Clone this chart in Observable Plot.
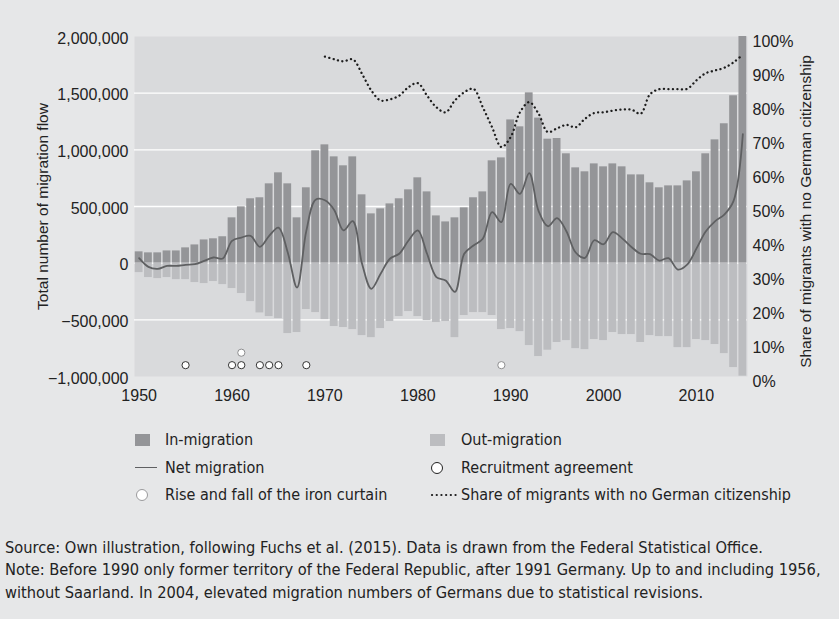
<!DOCTYPE html>
<html>
<head>
<meta charset="utf-8">
<script src="https://cdn.jsdelivr.net/npm/d3@7"></script>
<script src="https://cdn.jsdelivr.net/npm/@observablehq/plot@0.6"></script>
<style>
  html, body { margin: 0; padding: 0; background: #e6e7e8; }
  #wrap { position: relative; width: 839px; height: 619px; background: #e6e7e8; overflow: hidden;
          font-family: "Liberation Sans Narrow", "DejaVu Sans Condensed", sans-serif; color: #222; }
  #chart { position: absolute; left: 0; top: 0; }
  .leg { position: absolute; font-size: 16px; line-height: 20px; white-space: nowrap; }
  .sw { position: absolute; line-height: 0; }
  .sw svg { display: block; }
  .cap { position: absolute; left: 5px; font-size: 16.3px; line-height: 22px; white-space: nowrap; }
</style>
</head>
<body>
<div id="wrap">
  <div id="chart"></div>
  <div id="legend"></div>
  <div id="caption"></div>
</div>
<script>
// ---------- data (thousands) ----------
const years = d3.range(1950, 2016);

const inMigration = [
  100, 91, 91, 108, 108, 135, 161, 205, 215, 233,
  400, 497, 568, 577, 700, 797, 700, 400, 665, 991,
  1044, 938, 859, 938, 603, 435, 479, 523, 568, 647,
  753, 629, 417, 364, 400, 488, 577, 629, 903, 929,
  1264, 1203, 1503, 1280, 1094, 1100, 965, 841, 806, 876,
  850, 876, 850, 779, 779, 709, 665, 682, 682, 726,
  806, 965, 1088, 1230, 1477, 2137
];

const outMigration = [
  -83, -127, -136, -127, -145, -145, -171, -180, -162, -189,
  -224, -268, -339, -439, -471, -489, -621, -612, -409, -436,
  -498, -559, -568, -586, -639, -657, -577, -515, -471, -427,
  -471, -507, -524, -515, -657, -462, -436, -436, -462, -586,
  -577, -604, -727, -824, -768, -700, -683, -754, -763, -674,
  -683, -612, -630, -630, -700, -639, -648, -648, -745, -745,
  -674, -683, -718, -798, -921, -997
];

const netMigration = [
  44, -33, -50, -24, -24, -15, -9, 20, 50, 41,
  197, 226, 241, 144, 241, 314, 94, -215, 285, 560,
  555, 470, 289, 371, -5, -226, -94, 39, 83, 200,
  289, 83, -123, -153, -253, 83, 156, 215, 450, 362,
  700, 612, 794, 462, 326, 398, 282, 94, 47, 202,
  167, 273, 219, 143, 83, 79, 23, 44, -56, -13,
  128, 279, 369, 429, 550, 1139
];

// share of migrants with no German citizenship (%), from 1970
const shareYears = d3.range(1970, 2016);
const shareNonGerman = [
  94.1, 93.3, 92.7, 93.3, 89.0, 84.1, 81.2, 81.5, 82.6, 85.1,
  86.3, 82.6, 79.2, 77.7, 81.2, 83.6, 84.6, 79.2, 73.3, 67.5,
  70.4, 77.7, 80.7, 77.3, 71.9, 73.0, 74.0, 73.3, 75.8, 77.5,
  77.7, 78.2, 78.5, 78.5, 77.3, 83.0, 84.5, 84.5, 84.5, 84.6,
  87.1, 89.2, 90.0, 90.8, 92.4, 94.7
];

const recruitmentYears = [1955, 1960, 1961, 1963, 1964, 1965, 1968];
const ironCurtainYears = [1961, 1989];
const recruitmentLevel = -900000;
const ironCurtainLevel = [-790000, -900000];

const xTicks = [1950, 1960, 1970, 1980, 1990, 2000, 2010];
const yTicks = [-1000000, -500000, 0, 500000, 1000000, 1500000, 2000000];
const pctTicks = [0, 10, 20, 30, 40, 50, 60, 70, 80, 90, 100];

// ---------- tables ----------
const flows = years.map((year, i) => ({
  year, in: inMigration[i] * 1000, out: outMigration[i] * 1000, net: netMigration[i] * 1000
}));
const yMin = -1000000, yMax = 2000000;
const pctToY = p => yMin + p / 100 * (yMax - yMin);
const share = shareYears.map((year, i) => ({ year, share: shareNonGerman[i] }));
const recruit = recruitmentYears.map(year => ({ year, level: recruitmentLevel }));
const curtain = ironCurtainYears.map((year, i) => ({ year, level: ironCurtainLevel[i] }));

const fmt = d3.format(",");

const chart = Plot.plot({
  width: 839,
  height: 408,
  marginLeft: 134,
  marginRight: 92,
  marginTop: 36,
  marginBottom: 32,
  style: { background: "transparent", fontFamily: "'Liberation Sans', Arial, sans-serif", fontSize: "16px", color: "#222" },
  x: { domain: [1949.5, 2015.5] },
  y: { domain: [yMin, yMax] },
  marks: [
    Plot.frame({ fill: "#d9dadc", stroke: null }),
    Plot.ruleY(yTicks.filter(t => t > yMin && t < yMax), { stroke: "#ffffff", strokeWidth: 1.3 }),
    Plot.rectY(flows, { x1: d => d.year - 0.5, x2: d => d.year + 0.5, y1: 0, y2: "in",
      fill: "#949598", insetLeft: 0.75, insetRight: 0.75, clip: true }),
    Plot.rectY(flows, { x1: d => d.year - 0.5, x2: d => d.year + 0.5, y1: 0, y2: "out",
      fill: "#bcbdc0", insetLeft: 0.75, insetRight: 0.75, clip: true }),
    Plot.line(flows, { x: "year", y: "net", curve: "catmull-rom", stroke: "#5f6062", strokeWidth: 1.8 }),
    Plot.line(share, { x: "year", y: d => pctToY(d.share), curve: "catmull-rom",
      stroke: "#1d1d1d", strokeWidth: 2.3, strokeDasharray: "0.1 4.4", strokeLinecap: "round" }),
    Plot.dot(recruit, { x: "year", y: "level", r: 3.6, fill: "#ffffff", stroke: "#333333", strokeWidth: 1 }),
    Plot.dot(curtain, { x: "year", y: "level", r: 3.6, fill: "#ffffff", stroke: "#8e8e90", strokeWidth: 1 }),
    Plot.axisX({ ticks: xTicks, tickFormat: d => String(d), tickSize: 0, tickPadding: 13, label: null, fontSize: 16 }),
    Plot.axisY({ ticks: yTicks, tickFormat: fmt, tickSize: 0, tickPadding: 6, dy: 2, label: null, fontSize: 16 }),
    Plot.axisY({ anchor: "right", ticks: pctTicks.map(pctToY), tickFormat: d => Math.round((d - yMin) / (yMax - yMin) * 100) + "%",
      tickSize: 0, tickPadding: 5, dy: 5, label: null, fontSize: 16 }),
    Plot.text(["Total number of migration flow"], { text: d => d, frameAnchor: "left", textAnchor: "middle",
      dx: -91, rotate: -90, fontSize: 15.5, fill: "#222" }),
    Plot.text(["Share of migrants with no German citizenship"], { text: d => d, frameAnchor: "right", textAnchor: "middle",
      dx: 59, dy: 5, rotate: -90, fontSize: 15.5, fill: "#222" })
  ]
});
document.getElementById("chart").appendChild(chart);

// ---------- legend ----------
const legendItems = [
  { label: "In-migration", kind: "rect", color: "#949598", col: 0, row: 0 },
  { label: "Out-migration", kind: "rect", color: "#bcbdc0", col: 1, row: 0 },
  { label: "Net migration", kind: "line", color: "#5f6062", col: 0, row: 1 },
  { label: "Recruitment agreement", kind: "circle", color: "#222", col: 1, row: 1 },
  { label: "Rise and fall of the iron curtain", kind: "circle", color: "#9a9a9c", col: 0, row: 2 },
  { label: "Share of migrants with no German citizenship", kind: "dots", color: "#1d1d1d", col: 1, row: 2 }
];
const colSwatchX = [135, 430];
const colTextX = [165, 461];
const rowY = [440, 467.5, 495];
const legend = d3.select("#legend");
legendItems.forEach(it => {
  const cx = colSwatchX[it.col], cy = rowY[it.row];
  const s = legend.append("div").attr("class", "sw");
  if (it.kind === "rect") {
    s.style("left", cx + "px").style("top", (cy - 6) + "px").style("width", "15px").style("height", "12px").style("background", it.color);
  } else if (it.kind === "line") {
    s.style("left", cx + "px").style("top", (cy - 0.75) + "px").style("width", "22px").style("height", "1.5px").style("background", it.color);
  } else if (it.kind === "circle") {
    s.style("left", (cx + 1) + "px").style("top", (cy - 6) + "px").style("width", "10px").style("height", "10px")
     .style("border", "1.4px solid " + it.color).style("border-radius", "50%").style("background", "#fff");
  } else {
    const svg = s.style("left", cx + "px").style("top", (cy - 4) + "px").append("svg").attr("width", 28).attr("height", 8);
    svg.append("line").attr("x1", 2).attr("x2", 26).attr("y1", 4).attr("y2", 4)
      .attr("stroke", it.color).attr("stroke-width", 2.2).attr("stroke-linecap", "round").attr("stroke-dasharray", "0.1 4.6");
  }
  legend.append("div").attr("class", "leg").style("left", colTextX[it.col] + "px").style("top", (cy - 10) + "px").text(it.label);
});

// ---------- caption ----------
const captionLines = [
  "Source: Own illustration, following Fuchs et al. (2015). Data is drawn from the Federal Statistical Office.",
  "Note: Before 1990 only former territory of the Federal Republic, after 1991 Germany. Up to and including 1956,",
  "without Saarland. In 2004, elevated migration numbers of Germans due to statistical revisions."
];
const capTop = [537, 559.3, 581.6];
const cap = d3.select("#caption");
captionLines.forEach((t, i) => cap.append("div").attr("class", "cap").style("top", capTop[i] + "px").text(t));
</script>
</body>
</html>
